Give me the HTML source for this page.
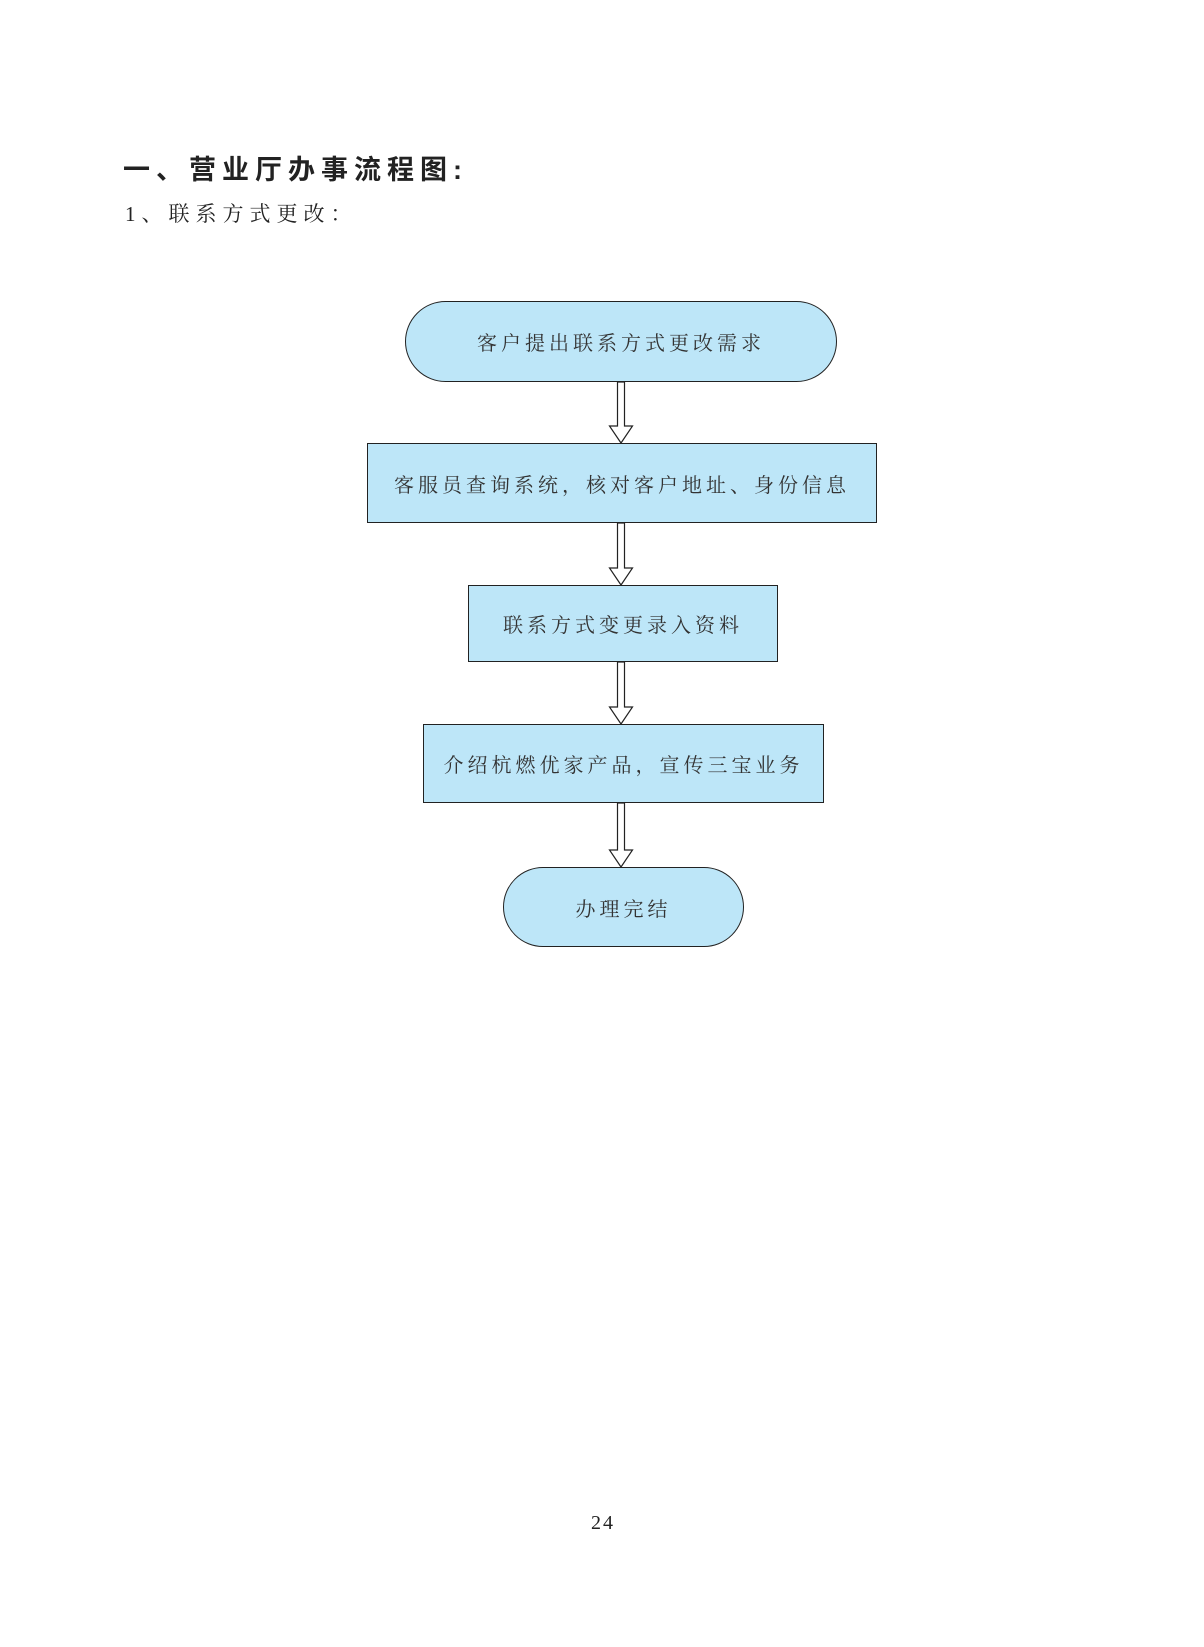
<!DOCTYPE html>
<html><head><meta charset="utf-8"><style>
body{margin:0;width:1204px;height:1647px;background:#fff;position:relative;font-family:"Liberation Serif","Noto Serif CJK SC",serif;color:#222}
.t{position:absolute;white-space:nowrap}
.n{position:absolute;box-sizing:border-box;background:#bde6f8;border:1.3px solid #222;display:flex;align-items:center;justify-content:center;font-size:20px;letter-spacing:4px;color:#333;font-family:"Liberation Serif","Noto Serif CJK SC",serif}
</style></head><body>
<div class="t" style="left:123px;top:148px;font-size:27px;letter-spacing:6px;font-weight:bold;font-family:'Liberation Sans','Noto Sans CJK SC',sans-serif">一、营业厅办事流程图:</div>
<div class="t" style="left:125px;top:198px;font-size:21px;letter-spacing:6px">1、联系方式更改：</div>
<div class="n" style="left:405px;top:301px;width:432px;height:81px;border-radius:41px">客户提出联系方式更改需求</div>
<div class="n" style="left:367px;top:443px;width:510px;height:80px">客服员查询系统，核对客户地址、身份信息</div>
<div class="n" style="left:468px;top:585px;width:310px;height:77px">联系方式变更录入资料</div>
<div class="n" style="left:423px;top:724px;width:401px;height:79px">介绍杭燃优家产品，宣传三宝业务</div>
<div class="n" style="left:503px;top:867px;width:241px;height:80px;border-radius:40px">办理完结</div>
<svg width="1204" height="1647" style="position:absolute;left:0;top:0" fill="#fff" stroke="#222" stroke-width="1.2">
<path d="M617.5 382 V426 H609.5 L621 443 L632.5 426 H624.5 V382 Z"/>
<path d="M617.5 523 V568 H609.5 L621 585 L632.5 568 H624.5 V523 Z"/>
<path d="M617.5 662 V707 H609.5 L621 724 L632.5 707 H624.5 V662 Z"/>
<path d="M617.5 803 V850 H609.5 L621 867 L632.5 850 H624.5 V803 Z"/>
</svg>
<div class="t" style="left:591px;top:1512px;font-size:20px;letter-spacing:2px">24</div>
</body></html>
